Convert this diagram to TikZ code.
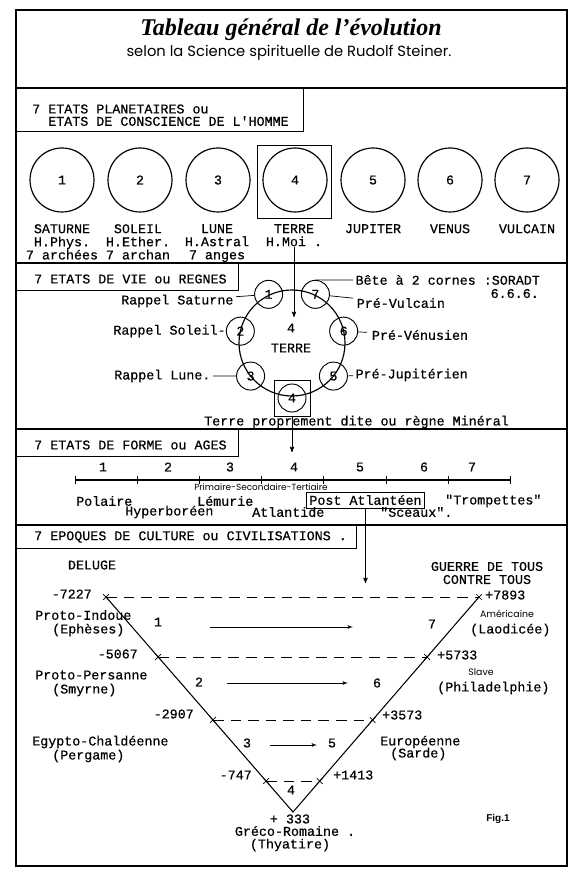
\documentclass[tikz,border=0pt]{standalone}
\usepackage{fontspec}
\setmainfont{Liberation Serif}
\setsansfont{Poppins}
\setmonofont{Liberation Mono}[FakeBold=0.5]
\newfontfamily\figfont{Liberation Sans}
\usetikzlibrary{
    arrows,
    calc,
    shapes.misc,
    positioning,
}

\begin{document}
\begin{tikzpicture}[x=0.03cm,y=-0.03cm,>=stealth',auto]

    \tikzstyle{typed}=[font=\ttfamily\fontsize{11.4}{11.2}\selectfont, inner sep=0pt, align=center]
    \tikzstyle{frameLine}=[line width=1.2pt, draw=black]
    \tikzstyle{planet}=[typed, circle, draw=black, line width=1pt, minimum size=1.92cm]
    \tikzstyle{lifeDot}=[typed, circle, draw=black, line width=0.8pt, minimum size=0.84cm]
    \tikzstyle{pickBox}=[rectangle, draw=black, line width=0.7pt, inner sep=0pt]
    \tikzstyle{leader}=[line width=0.6pt]
    \tikzstyle{smallSans}=[font=\sffamily\fontsize{8}{9}\selectfont, inner sep=0pt]
    \tikzstyle{tick}=[cross out, draw=black, line width=0.6pt, minimum size=0.15cm, inner sep=0pt]
    \tikzstyle{vLine}=[line width=0.9pt]
    \tikzstyle{dashLine}=[line width=0.6pt, dash pattern=on 9pt off 6pt]
    \tikzstyle{flow}=[->, >=latex', line width=0.6pt]
    \tikzstyle{ageLine}=[line width=1.1pt]

    \useasboundingbox (0,0) rectangle (576,875);

    % Frame and sections
    \draw[frameLine] (16,10) rectangle (567,866);
    \draw[frameLine] (16,88) -- (567,88);
    \draw[frameLine] (16,263) -- (567,263);
    \draw[frameLine] (16,429) -- (567,429);
    \draw[frameLine] (16,525) -- (567,525);

    % Title
    \node at (291,30) [font=\rmfamily\bfseries\itshape\fontsize{20.5}{24}\selectfont] (title) {Tableau général de l’évolution};
    \node at (289,53) [font=\sffamily\fontsize{12.6}{14}\selectfont] (subtitle) {selon la Science spirituelle de Rudolf Steiner.};

    % Planetary states
    \draw[line width=0.8pt] (16,88) rectangle (303,131);
    \node at (32,109) [typed, anchor=west] (planTitleA) {7 ETATS PLANETAIRES ou};
    \node at (48,121) [typed, anchor=west] (planTitleB) {ETATS DE CONSCIENCE DE L'HOMME};

    \node at (62,180)  [planet] (P1) {1};
    \node at (140,180) [planet] (P2) {2};
    \node at (218,180) [planet] (P3) {3};
    \node at (295,180) [planet] (P4) {4};
    \node at (373,180) [planet] (P5) {5};
    \node at (450,180) [planet] (P6) {6};
    \node at (527,180) [planet] (P7) {7};
    \node at (294,181.5) [pickBox, minimum width=2.22cm, minimum height=2.19cm] (earthFrame) {};

    \node at (62,224)  [typed, anchor=north] (satLbl) {SATURNE\\H.Phys.\\7 archées};
    \node at (138,224) [typed, anchor=north] (solLbl) {SOLEIL\\H.Ether.\\7 archan};
    \node at (217,224) [typed, anchor=north] (lunLbl) {LUNE\\H.Astral\\7 anges};
    \node at (294,224) [typed, anchor=north] (terLbl) {TERRE\\H.Moi .};
    \node at (373,224) [typed, anchor=north] (jupLbl) {JUPITER};
    \node at (450,224) [typed, anchor=north] (venLbl) {VENUS};
    \node at (527,224) [typed, anchor=north] (vulLbl) {VULCAIN};

    \coordinate (earthDrop) at (292,317);
    \draw[->, line width=0.7pt] (terLbl.south) -- (terLbl.south |- earthDrop);

    % States of life
    \draw[line width=0.8pt] (16,263) rectangle (238,290);
    \node at (34,279) [typed, anchor=west] (lifeTitle) {7 ETATS DE VIE ou REGNES};

    \node at (292,343) [circle, draw=black, line width=1pt, minimum size=3.18cm] (lifeRing) {};
    \node at ($(lifeRing.center)+(244.3:54)$) [lifeDot] (L1) {1};
    \node at ($(lifeRing.center)+(192.9:53)$) [lifeDot] (L2) {2};
    \node at ($(lifeRing.center)+(141.4:53)$) [lifeDot] (L3) {3};
    \node at ($(lifeRing.center)+(90:55)$)    [lifeDot] (L4) {4};
    \node at ($(lifeRing.center)+(38.6:53)$)  [lifeDot] (L5) {5};
    \node at ($(lifeRing.center)+(-12.9:53)$) [lifeDot] (L6) {6};
    \node at ($(lifeRing.center)+(-64.3:54)$) [lifeDot] (L7) {7};
    \node at (L4) [pickBox, minimum size=1.08cm] (earthBox) {};

    \node at (291,328) [typed] (earthNum) {4};
    \node at (291,348) [typed] (earthName) {TERRE};

    \node at (236,301) [typed, anchor=east, inner xsep=2pt] (rapSat) {Rappel Saturne}
        edge [leader] (L1);
    \node at (L2.west) [typed, anchor=east] (rapSol) {Rappel Soleil-};
    \node at (213,376) [typed, anchor=east, inner xsep=2pt] (rapLun) {Rappel Lune.}
        edge [leader] (L3);

    \node at (353,280) [typed, anchor=west, inner xsep=2pt] (bete) {Bête à 2 cornes :SORADT};
    \draw[leader] (L7.north) -- (bete.west);
    \node at (539,293.5) [typed, anchor=east] (beteNum) {6.6.6.};
    \node at (353,303) [typed, anchor=west, inner xsep=3pt] (preVul) {Pré-Vulcain}
        edge [leader] (L7);
    \node at (367,335) [typed, anchor=west, inner xsep=4pt] (preVen) {Pré-Vénusien}
        edge [leader] (L6);
    \node at (353,375) [typed, anchor=west, inner xsep=2pt] (preJup) {Pré-Jupitérien}
        edge [leader] (L5);

    \node at (204,422) [typed, anchor=west] (mineral) {Terre proprement dite ou règne Minéral};

    \coordinate (formDrop) at (291,452);
    \draw[->, line width=0.7pt] (earthBox.south) -- (earthBox.south |- formDrop);

    % States of form
    \draw[line width=0.8pt] (16,429) rectangle (238,456);
    \node at (34,445) [typed, anchor=west] (formTitle) {7 ETATS DE FORME ou AGES};

    \draw[ageLine] (75,480) -- (510,480);
    \foreach \tx in {75,137,199,261,323,386,448,510}
        \draw[leader] (\tx,476) -- (\tx,484);

    \node at (103,467) [typed] (ageA) {1};
    \node at (168,467) [typed] (ageB) {2};
    \node at (230,467) [typed] (ageC) {3};
    \node at (294,467) [typed] (ageD) {4};
    \node at (360,467) [typed] (ageE) {5};
    \node at (424,467) [typed] (ageF) {6};
    \node at (472,467) [typed] (ageG) {7};
    \node at (261,487) [smallSans, font=\sffamily\fontsize{7.6}{8}\selectfont] (eras) {Primaire-Secondaire-Tertiaire};

    \node at (76,501)  [typed, anchor=west] (polaire) {Polaire};
    \node at (197,501) [typed, anchor=west] (lemurie) {Lémurie};
    \node at (365.5,500) [typed, draw=black, line width=0.7pt, inner xsep=2.5pt, minimum height=0.48cm] (postAtl) {Post Atlantéen};
    \node at (445,501) [typed, anchor=west] (trompettes) {"Trompettes"};
    \node at (125,512) [typed, anchor=west] (hyperboreen) {Hyperboréen};
    \node at (252,512) [typed, anchor=west] (atlantide) {Atlantide};
    \node at (380,512) [typed, anchor=west] (sceaux) {"Sceaux".};

    \coordinate (cultureDrop) at (366,583);
    \draw[->, line width=0.7pt] (postAtl.south) -- (postAtl.south |- cultureDrop);

    % Cultural epochs
    \draw[line width=0.8pt] (16,525) rectangle (356,548);
    \node at (34,537) [typed, anchor=west] (cultureTitle) {7 EPOQUES DE CULTURE ou CIVILISATIONS .};

    \node at (92,565)  [typed] (deluge) {DELUGE};
    \node at (487,573) [typed] (guerre) {GUERRE DE TOUS\\ CONTRE TOUS};

    \coordinate (vTopL) at (106,597);
    \coordinate (vBottom) at (293,812);
    \coordinate (vTopR) at (479,597);
    \coordinate (m1L) at ($(vTopL)!0.279!(vBottom)$);
    \coordinate (m2L) at ($(vTopL)!0.572!(vBottom)$);
    \coordinate (m3L) at ($(vTopL)!0.856!(vBottom)$);
    \coordinate (m1R) at ($(vTopR)!0.279!(vBottom)$);
    \coordinate (m2R) at ($(vTopR)!0.572!(vBottom)$);
    \coordinate (m3R) at ($(vTopR)!0.856!(vBottom)$);

    \draw[vLine] (vTopL) -- (vBottom) -- (vTopR);
    \draw[dashLine] (vTopL) -- (vTopR);
    \draw[dashLine] (m1L) -- (m1R);
    \draw[dashLine] (m2L) -- (m2R);
    \draw[dashLine] (m3L) -- (m3R);

    \node at (vTopL) [tick] (t0L) {};
    \node at (vTopR) [tick] (t0R) {};
    \node at (m1L) [tick] (t1L) {};
    \node at (m1R) [tick] (t1R) {};
    \node at (m2L) [tick] (t2L) {};
    \node at (m2R) [tick] (t2R) {};
    \node at (m3L) [tick] (t3L) {};
    \node at (m3R) [tick] (t3R) {};

    \node at (92,594)  [typed, anchor=east] (yearA) {-7227};
    \node at (485,595) [typed, anchor=west] (yearB) {+7893};
    \node at (138,654) [typed, anchor=east] (yearC) {-5067};
    \node at (437,655) [typed, anchor=west] (yearD) {+5733};
    \node at (194,714) [typed, anchor=east] (yearE) {-2907};
    \node at (382,715) [typed, anchor=west] (yearF) {+3573};
    \node at (252,775) [typed, anchor=east] (yearG) {-747};
    \node at (333,775) [typed, anchor=west] (yearH) {+1413};
    \node at (290,819) [typed] (yearI) {+ 333};

    \node at (158,622) [typed] (epA) {1};
    \node at (199,682) [typed] (epB) {2};
    \node at (247,743) [typed] (epC) {3};
    \node at (291,790) [typed] (epD) {4};
    \node at (332,743) [typed] (epE) {5};
    \node at (377,683) [typed] (epF) {6};
    \node at (432,624) [typed] (epG) {7};

    \coordinate (flowOneA) at (210,627);
    \coordinate (flowOneB) at (353,627);
    \coordinate (flowTwoA) at (227,683);
    \coordinate (flowTwoB) at (348,683);
    \coordinate (flowThreeA) at (270,745);
    \coordinate (flowThreeB) at (317,745);
    \draw[flow] (flowOneA) -- (flowOneB);
    \draw[flow] (flowTwoA) -- (flowTwoB);
    \draw[flow] (flowThreeA) -- (flowThreeB);

    \node at (35,615)  [typed, anchor=west] (indoue) {Proto-Indoue};
    \node at (52,630)  [typed, anchor=west] (ephese) {(Ephèses)};
    \node at (35,675)  [typed, anchor=west] (persanne) {Proto-Persanne};
    \node at (52,690)  [typed, anchor=west] (smyrne) {(Smyrne)};
    \node at (32,742)  [typed, anchor=west] (chaldeenne) {Egypto-Chaldéenne};
    \node at (52,756)  [typed, anchor=west] (pergame) {(Pergame)};

    \node at (507,614) [smallSans] (americaine) {Américaine};
    \node at (470,630) [typed, anchor=west] (laodicee) {(Laodicée)};
    \node at (481,672) [smallSans] (slave) {Slave};
    \node at (437,688) [typed, anchor=west] (philadelphie) {(Philadelphie)};
    \node at (380,742) [typed, anchor=west] (europeenne) {Européenne};
    \node at (390,754) [typed, anchor=west] (sarde) {(Sarde)};

    \node at (295,831) [typed] (greco) {Gréco-Romaine .};
    \node at (290,845) [typed] (thyatire) {(Thyatire)};

    \node at (498,819) [font=\figfont\bfseries\fontsize{8.5}{10}\selectfont] (figLbl) {Fig.1};

\end{tikzpicture}
\end{document}
